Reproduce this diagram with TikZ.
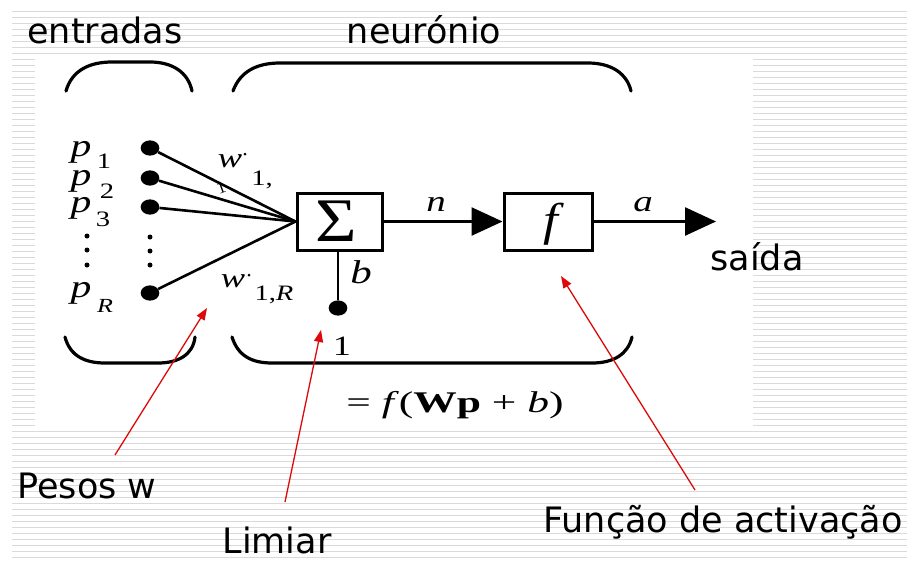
\documentclass[tikz,border=0pt]{standalone}
\usepackage{fontspec}
\usepackage{graphicx}
\setmainfont{DejaVu Sans}
\newfontfamily\tms{Liberation Serif}
\usetikzlibrary{arrows.meta}
\definecolor{stripe}{RGB}{218,218,218}
\definecolor{callred}{RGB}{220,10,10}
\newcommand{\widen}[1]{\scalebox{1.3}[1]{#1}}
\tikzset{
  lbl/.style={font=\fontsize{35}{40}\selectfont, anchor=base, inner sep=0pt},
  sym/.style={font=\tms\itshape\fontsize{32}{36}\selectfont, anchor=base, inner sep=0pt},
  subs/.style={font=\tms\fontsize{22}{26}\selectfont, anchor=base, inner sep=0pt},
  bigdot/.style={circle, fill=black, minimum width=17pt, minimum height=17pt, inner sep=0pt, xscale=1.1, yscale=0.9},
  smalldot/.style={circle, fill=black, minimum size=5pt, inner sep=0pt},
  tinydot/.style={circle, fill=black, minimum size=3pt, inner sep=0pt},
  blockbox/.style={draw, line width=3pt, inner sep=0pt},
  wire/.style={line width=2.6pt},
  brace/.style={line width=3.2pt, line cap=round},
  callout/.style={callred, line width=1.3pt, -{Triangle[length=12pt,width=9pt]}},
  bigtip/.style={-{Triangle[length=31pt,width=28pt]}}
}
\begin{document}
\begin{tikzpicture}[x=1pt,y=-1pt]
\useasboundingbox (0,0) rectangle (907,560);
% striped background
\foreach \yy in {11,17,...,560} {
  \draw[stripe, line width=1pt] (12,\yy) -- (907,\yy);
}
\fill[white] (35,56) rectangle (753,430);

% headings
\node[lbl] (entradas) at (105,43) {entradas};
\node[lbl] (neuronio) at (424,43) {neurónio};

% braces
\draw[brace] (66,91) .. controls (72,70) and (90,62) .. (112,62) -- (150,62) .. controls (172,62) and (188,72) .. (192,91);
\draw[brace] (233,91) .. controls (240,72) and (256,63) .. (280,63) -- (588,63) .. controls (612,63) and (627,74) .. (631,91);
\draw[brace] (65,337) .. controls (70,356) and (85,363) .. (105,363) -- (158,363) .. controls (178,363) and (193,355) .. (195,337);
\draw[brace] (232,337) .. controls (238,356) and (252,363) .. (272,363) -- (592,363) .. controls (614,363) and (628,354) .. (632,337);

% input labels
\node[sym] (p1) at (81,156) {\widen{p}};
\node[subs] (s1) at (104,168) {\widen{1}};
\node[sym] (p2) at (81,185) {\widen{p}};
\node[subs] (s2) at (107,198) {\widen{2}};
\node[sym] (p3) at (81,212) {\widen{p}};
\node[subs] (s3) at (103,226) {\widen{3}};
\node[sym] (pR) at (81,297) {\widen{p}};
\node[subs, font=\tms\itshape\fontsize{20}{24}\selectfont] (sR) at (105,312) {\widen{R}};
\node[smalldot] (l1) at (87,236) {};
\node[smalldot] (l2) at (87,250) {};
\node[smalldot] (l3) at (87,265) {};

% input dots
\node[bigdot] (d1) at (150,148) {};
\node[bigdot] (d2) at (150,178) {};
\node[bigdot] (d3) at (150,207) {};
\node[bigdot] (dR) at (150,293) {};
\node[smalldot] (v1) at (150,237) {};
\node[smalldot] (v2) at (150,251) {};
\node[smalldot] (v3) at (150,265) {};

% blocks
\node[blockbox, minimum width=85pt, minimum height=57pt] (sum) at (339.5,221.5) {};
\node[font=\tms\fontsize{62}{66}\selectfont, inner sep=0pt] (sigma) at (336,221) {\scalebox{1.15}[1]{Σ}};
\node[blockbox, minimum width=88pt, minimum height=57pt] (fbox) at (548,221.5) {};
\node[sym, font=\tms\itshape\fontsize{46}{50}\selectfont] (flab) at (551,235) {\scalebox{1.15}[1]{f}};

% weights
\foreach \d in {d1,d2,d3,dR} { \draw[wire] (\d) -- (sum.west); }
\node[sym, font=\tms\itshape\fontsize{28}{32}\selectfont] (w1) at (230,167) {\widen{w}};
\node[tinydot] (w1dot) at (245,154) {};
\node[subs] (w1s) at (262,185) {\widen{1,}};
\node[subs, font=\tms\fontsize{17}{19}\selectfont, rotate=20] (w1x) at (223,193) {1};
\node[sym, font=\tms\itshape\fontsize{28}{32}\selectfont] (wR) at (233,287) {\widen{w}};
\node[tinydot] (wRdot) at (249,275) {};
\node[subs] (wRs) at (274,300) {\widen{1,\textit{R}}};

% bias
\node[bigdot] (bd) at (338,308) {};
\draw[wire] (sum.south -| bd) -- (bd);
\node[sym, font=\tms\itshape\fontsize{33}{36}\selectfont] (blab) at (361,283) {\widen{b}};
\node[sym, font=\tms\fontsize{28}{32}\selectfont] (one) at (342,355) {\widen{1}};

% signals
\draw[wire, bigtip] (sum.east) -- (fbox.west);
\node[sym, font=\tms\itshape\fontsize{30}{34}\selectfont] (nlab) at (436,211) {\widen{n}};
\coordinate (outend) at (716,221.5);
\draw[wire, bigtip] (fbox.east) -- (outend);
\node[sym, font=\tms\itshape\fontsize{30}{34}\selectfont] (alab) at (643,211) {\widen{a}};
\node[lbl] (saida) at (757,270) {saída};

% formula
\node[font=\tms\fontsize{30}{34}\selectfont, inner sep=0pt] (formula) at (455,405) {\scalebox{1.45}[1]{= \textit{f}(\textbf{Wp} + \textit{b})}};

% callouts
\node[lbl] (pesos) at (87,498) {Pesos w};
\node[lbl] (limiar) at (277,553) {Limiar};
\node[lbl] (funcao) at (723,532) {Função de activação};
\coordinate (pesosTail) at (115,455);
\coordinate (pesosTip) at (207,308);
\coordinate (limTail) at (285,502);
\coordinate (limTip) at (321,330);
\coordinate (funTail) at (695,490);
\coordinate (funTip) at (561,276);
\draw[callout] (pesosTail) -- (pesosTip);
\draw[callout] (limTail) -- (limTip);
\draw[callout] (funTail) -- (funTip);
\end{tikzpicture}
\end{document}
